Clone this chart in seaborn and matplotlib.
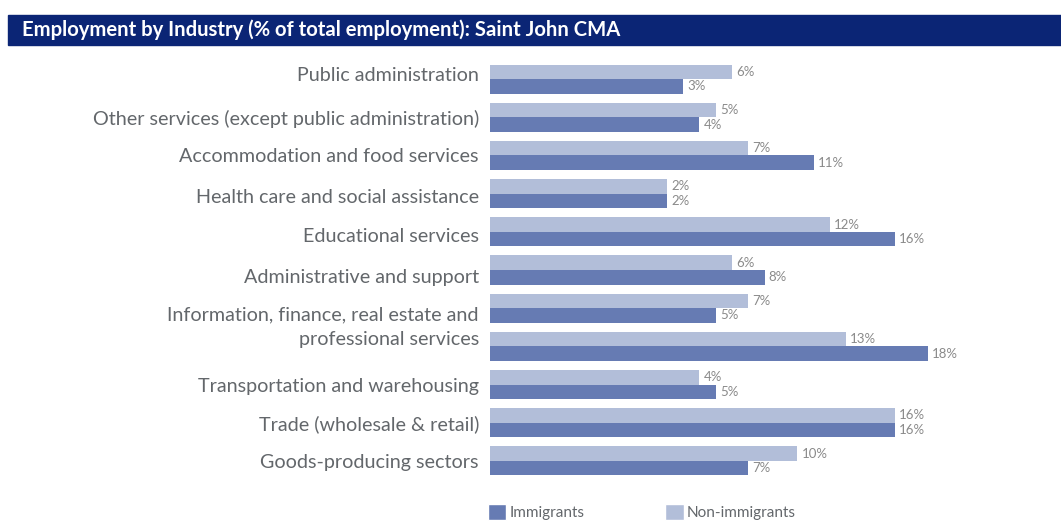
import matplotlib
matplotlib.use("Agg")
import matplotlib.pyplot as plt
import matplotlib.transforms as mtransforms
from matplotlib.patches import Rectangle, Patch
import seaborn as sns
import pandas as pd

industries = [
    "Public administration",
    "Other services (except public administration)",
    "Accommodation and food services",
    "Health care and social assistance",
    "Educational services",
    "Administrative and support",
    "Information, finance, real estate and",
    "professional services",
    "Transportation and warehousing",
    "Trade (wholesale & retail)",
    "Goods-producing sectors",
]
non_immigrants = [6, 5, 7, 2, 12, 6, 7, 13, 4, 16, 10]
immigrants = [3, 4, 11, 2, 16, 8, 5, 18, 5, 16, 7]
series_names = ["Immigrants", "Non-immigrants"]

DARK = "#667BB3"
LIGHT = "#B2BED9"
NAVY = "#0B2575"
GREY_TEXT = "#63676B"
VALUE_TEXT = "#8A8A8A"

# the value axis of this chart starts below zero, so bars grow from that base
AXIS_START = -8.85

df = pd.DataFrame({
    "industry": industries * 2,
    "group": ["Non-immigrants"] * len(industries) + ["Immigrants"] * len(industries),
    "share": non_immigrants + immigrants,
})
df["bar_len"] = df["share"] - AXIS_START

sns.set_theme(style="white")
plt.rcParams["font.family"] = ["Lato", "DejaVu Sans"]

fig = plt.figure(figsize=(10.61, 5.29), dpi=100)
W, H = 1061, 529

# title banner
fig.patches.append(Rectangle((8 / W, 1 - 45 / H), 1 - 8 / W, 30 / H,
                             transform=fig.transFigure, color=NAVY, zorder=0))
fig.text(22 / W, 1 - 30 / H,
         "Employment by Industry (% of total employment): Saint John CMA",
         color="white", fontsize=14.6, fontweight="bold", va="center", ha="left")

ax_left, ax_top, ax_bottom = 490, 60, 480
ax = fig.add_axes([ax_left / W, 1 - ax_bottom / H, (W - ax_left) / W, (ax_bottom - ax_top) / H])

sns.barplot(data=df, y="industry", x="bar_len", hue="group",
            order=industries, hue_order=["Non-immigrants", "Immigrants"],
            palette={"Non-immigrants": LIGHT, "Immigrants": DARK},
            width=0.76, orient="h", linewidth=0, saturation=1,
            errorbar=None, legend=False, ax=ax)

px_per_unit = 16.3
ax.set_xlim(0, (W - ax_left) / px_per_unit)
ax.set_ylim(len(industries) - 0.5, -0.5)

vals_by_container = [non_immigrants, immigrants]
for cont, vals in zip(ax.containers, vals_by_container):
    ax.bar_label(cont, labels=[f"{v}%" for v in vals], padding=3,
                 fontsize=9.5, color=VALUE_TEXT)

ax.set_xlabel("")
ax.set_ylabel("")
ax.set_xticks([])
ax.tick_params(axis="y", length=0, pad=8, labelsize=14.2, labelcolor=GREY_TEXT)
for s in ax.spines.values():
    s.set_visible(False)

# nudge a few category labels vertically (points; positive = up)
label_nudge = {
    "Public administration": 3.5,
    "Health care and social assistance": -2,
    "Educational services": -2,
    "Administrative and support": -4,
    "Information, finance, real estate and": -3.5,
    "professional services": 6,
}
for lbl in ax.get_yticklabels():
    dy = label_nudge.get(lbl.get_text(), 0)
    if dy:
        lbl.set_transform(lbl.get_transform() +
                          mtransforms.ScaledTranslation(0, dy / 72, fig.dpi_scale_trans))

handles = [Patch(facecolor=DARK, label=series_names[0]),
           Patch(facecolor=LIGHT, label=series_names[1])]
leg = fig.legend(handles=handles, loc="center left",
                 bbox_to_anchor=(482 / W, 1 - 512 / H), ncol=2, frameon=False,
                 fontsize=11, handlelength=1.2, handleheight=1.2,
                 handletextpad=0.2, columnspacing=5.3, borderaxespad=0)
for t in leg.get_texts():
    t.set_color(GREY_TEXT)

fig.savefig("out.png", dpi=100)
